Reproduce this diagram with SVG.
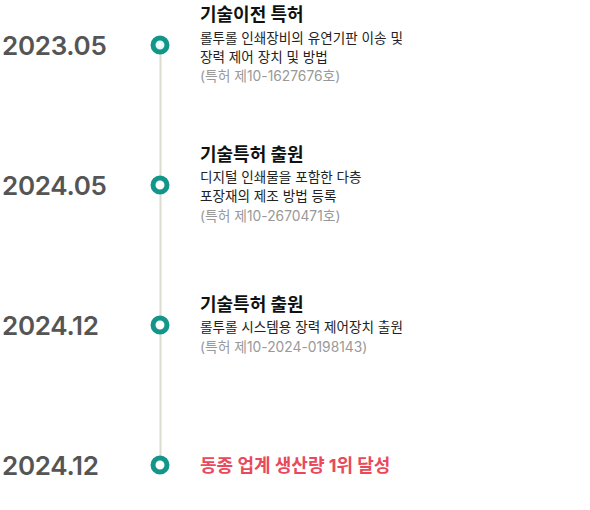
<svg xmlns="http://www.w3.org/2000/svg" width="590" height="510" viewBox="0 0 590 510">
<defs>
<style>
.date{font-family:Inter,"Noto Sans CJK KR",sans-serif;font-size:26px;font-weight:600;fill:#555555;letter-spacing:-0.3px}
.title{font-family:Inter,"Noto Sans CJK KR",sans-serif;font-size:18px;font-weight:700;fill:#111111}
.body{font-family:Inter,"Noto Sans CJK KR",sans-serif;font-size:13.6px;fill:#222222}
.note{font-family:Inter,"Noto Sans CJK KR",sans-serif;font-size:13.8px;fill:#999999}
.hl{font-family:Inter,"Noto Sans CJK KR",sans-serif;font-size:18px;font-weight:700;fill:#e9495b}
.dot{fill:#ffffff;stroke:#12968a;stroke-width:5}
</style>
<radialGradient id="glow" cx="0.5" cy="0.5" r="0.5">
<stop offset="0" stop-color="#ffffff"/>
<stop offset="1" stop-color="#c8f2f2"/>
</radialGradient>
</defs>
<rect width="590" height="510" fill="#ffffff"/>
<g id="connectors">
<line x1="160.5" y1="50" x2="160.5" y2="462" stroke="#dcdcd0" stroke-width="2"/>
</g>
<g id="node1">
<text class="date" x="2" y="55">2023.05</text>
<circle class="dot" cx="160" cy="45" r="7" style="fill:url(#glow)"/>
<text class="title" x="200" y="21">기술이전 특허</text>
<text class="body" x="200" y="43">롤투롤 인쇄장비의 유연기판 이송 및</text>
<text class="body" x="200" y="62">장력 제어 장치 및 방법</text>
<text class="note" x="200" y="81">(특허 제10-1627676호)</text>
</g>
<g id="node2">
<text class="date" x="2" y="195">2024.05</text>
<circle class="dot" cx="160" cy="185" r="7"/>
<text class="title" x="200" y="161">기술특허 출원</text>
<text class="body" x="200" y="182">디지털 인쇄물을 포함한 다층</text>
<text class="body" x="200" y="201">포장재의 제조 방법 등록</text>
<text class="note" x="200" y="221">(특허 제10-2670471호)</text>
</g>
<g id="node3">
<text class="date" x="2" y="335">2024.12</text>
<circle class="dot" cx="160" cy="325" r="7"/>
<text class="title" x="200" y="311">기술특허 출원</text>
<text class="body" x="200" y="332">롤투롤 시스템용 장력 제어장치 출원</text>
<text class="note" x="200" y="352">(특허 제10-2024-0198143)</text>
</g>
<g id="node4">
<text class="date" x="2" y="475">2024.12</text>
<circle class="dot" cx="160" cy="465" r="7"/>
<text class="hl" x="200" y="472">동종 업계 생산량 1위 달성</text>
</g>
</svg>
